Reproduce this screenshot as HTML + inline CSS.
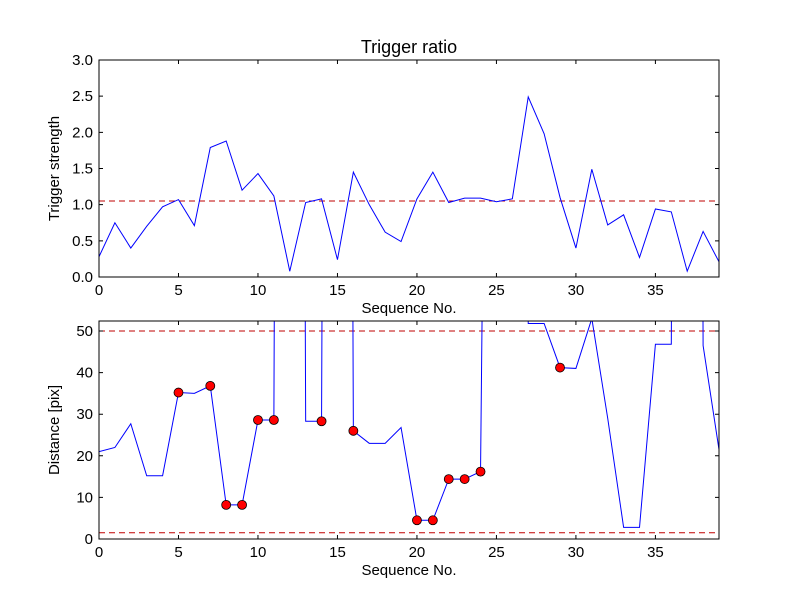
<!DOCTYPE html>
<html><head><meta charset="utf-8"><style>body{margin:0;background:#fff}svg{display:block}text{font-family:"Liberation Sans","DejaVu Sans",sans-serif;fill:#000}</style></head>
<body>
<svg id="fig" width="800" height="600" xmlns="http://www.w3.org/2000/svg">
<defs>
<clipPath id="c1"><rect x="99" y="60" width="620" height="217"/></clipPath>
<clipPath id="c2"><rect x="99" y="321" width="620" height="218"/></clipPath>
</defs>
<g id="top"></g><g id="bot"></g>
</svg>
<script>
const seq = Array.from({length:40},(_,i)=>i);
const strength = [0.28,0.75,0.40,0.70,0.97,1.07,0.71,1.79,1.88,1.20,1.43,1.12,0.08,1.03,1.08,0.24,1.45,1.00,0.62,0.49,1.08,1.45,1.03,1.09,1.09,1.04,1.08,2.49,1.98,1.10,0.40,1.49,0.72,0.86,0.27,0.94,0.90,0.08,0.63,0.21];
const strengthThreshold = 1.05;
const distance = [21,22,27.7,15.2,15.2,35.2,35,36.8,8.2,8.2,28.6,28.6,1000,28.3,28.3,1000,26,23,23,26.8,4.5,4.5,14.4,14.4,16.2,400,400,51.8,51.8,41.2,41,53,29,2.8,2.8,46.8,46.8,1000,46.5,21.5];
const flagged = [5,7,8,9,10,11,14,16,20,21,22,23,24,29];
const distanceLimits = [50,1.5];
const xTicks = [0,5,10,15,20,25,30,35];
const yTicksTop = [0,0.5,1.0,1.5,2.0,2.5,3.0];
const yTicksBot = [0,10,20,30,40,50];

const NS="http://www.w3.org/2000/svg";
function mk(p,t,a){const e=document.createElementNS(NS,t);for(const k in a)e.setAttribute(k,a[k]);p.appendChild(e);return e;}
function panel(g,box,ymax,yTicks,fmt,ylabel){
  const X=v=>box.x+(v/39)*box.w, Y=v=>box.y+box.h-(v/ymax)*box.h;
  return {X,Y,draw(){
    xTicks.forEach(t=>{
      const l=mk(g,'path',{d:`M${X(t)},${box.y+box.h}v-4M${X(t)},${box.y}v4`,stroke:'#000'});
      
      const tx=mk(g,'text',{x:X(t),y:box.y+box.h+18,'text-anchor':'middle','font-size':15});tx.textContent=t;
      
    });
    yTicks.forEach(t=>{
      const l=mk(g,'path',{d:`M${box.x},${Y(t)}h4M${box.x+box.w},${Y(t)}h-4`,stroke:'#000'});
      
      const tx=mk(g,'text',{x:box.x-6,y:Y(t)+5,'text-anchor':'end','font-size':15});tx.textContent=fmt(t);
      
    });
    const xl=mk(g,'text',{x:box.x+box.w/2,y:box.y+box.h+36,'text-anchor':'middle','font-size':15});xl.textContent='Sequence No.';
    
    const cx=box.x-40, cy=box.y+box.h/2;
    const yl=mk(g,'text',{x:cx,y:cy,'text-anchor':'middle','font-size':15,transform:`rotate(-90 ${cx} ${cy})`});yl.textContent=ylabel;
    
    const fr=mk(g,'rect',{x:box.x,y:box.y,width:box.w,height:box.h,fill:'none',stroke:'#000'});
    
  }};
}
const gt=document.getElementById('top'), gb=document.getElementById('bot');
const p1=panel(gt,{x:99,y:60,w:620,h:217},3.0,yTicksTop,t=>t.toFixed(1),'Trigger strength');
const th=mk(gt,'line',{x1:99,x2:719,y1:p1.Y(strengthThreshold),y2:p1.Y(strengthThreshold),stroke:'#bf0000','stroke-dasharray':'6,4','clip-path':'url(#c1)'});

const l1=mk(gt,'polyline',{points:seq.map(i=>p1.X(i)+','+p1.Y(strength[i])).join(' '),fill:'none',stroke:'#0000ff','clip-path':'url(#c1)'});

p1.draw();
const tt=mk(gt,'text',{x:409,y:53,'text-anchor':'middle','font-size':18});tt.textContent='Trigger ratio';


const p2=panel(gb,{x:99,y:321,w:620,h:218},52.4,yTicksBot,t=>String(t),'Distance [pix]');
distanceLimits.forEach(v=>{
  const d=mk(gb,'line',{x1:99,x2:719,y1:p2.Y(v),y2:p2.Y(v),stroke:'#bf0000','stroke-dasharray':'6,4'});
  
});
const l2=mk(gb,'polyline',{points:seq.map(i=>p2.X(i)+','+p2.Y(distance[i])).join(' '),fill:'none',stroke:'#0000ff','clip-path':'url(#c2)'});

flagged.forEach(i=>{
  const c=mk(gb,'circle',{cx:p2.X(i),cy:p2.Y(distance[i]),r:4.5,fill:'#ff0000',stroke:'#000','stroke-width':0.8});
  
});
p2.draw();
</script>
</body></html>
